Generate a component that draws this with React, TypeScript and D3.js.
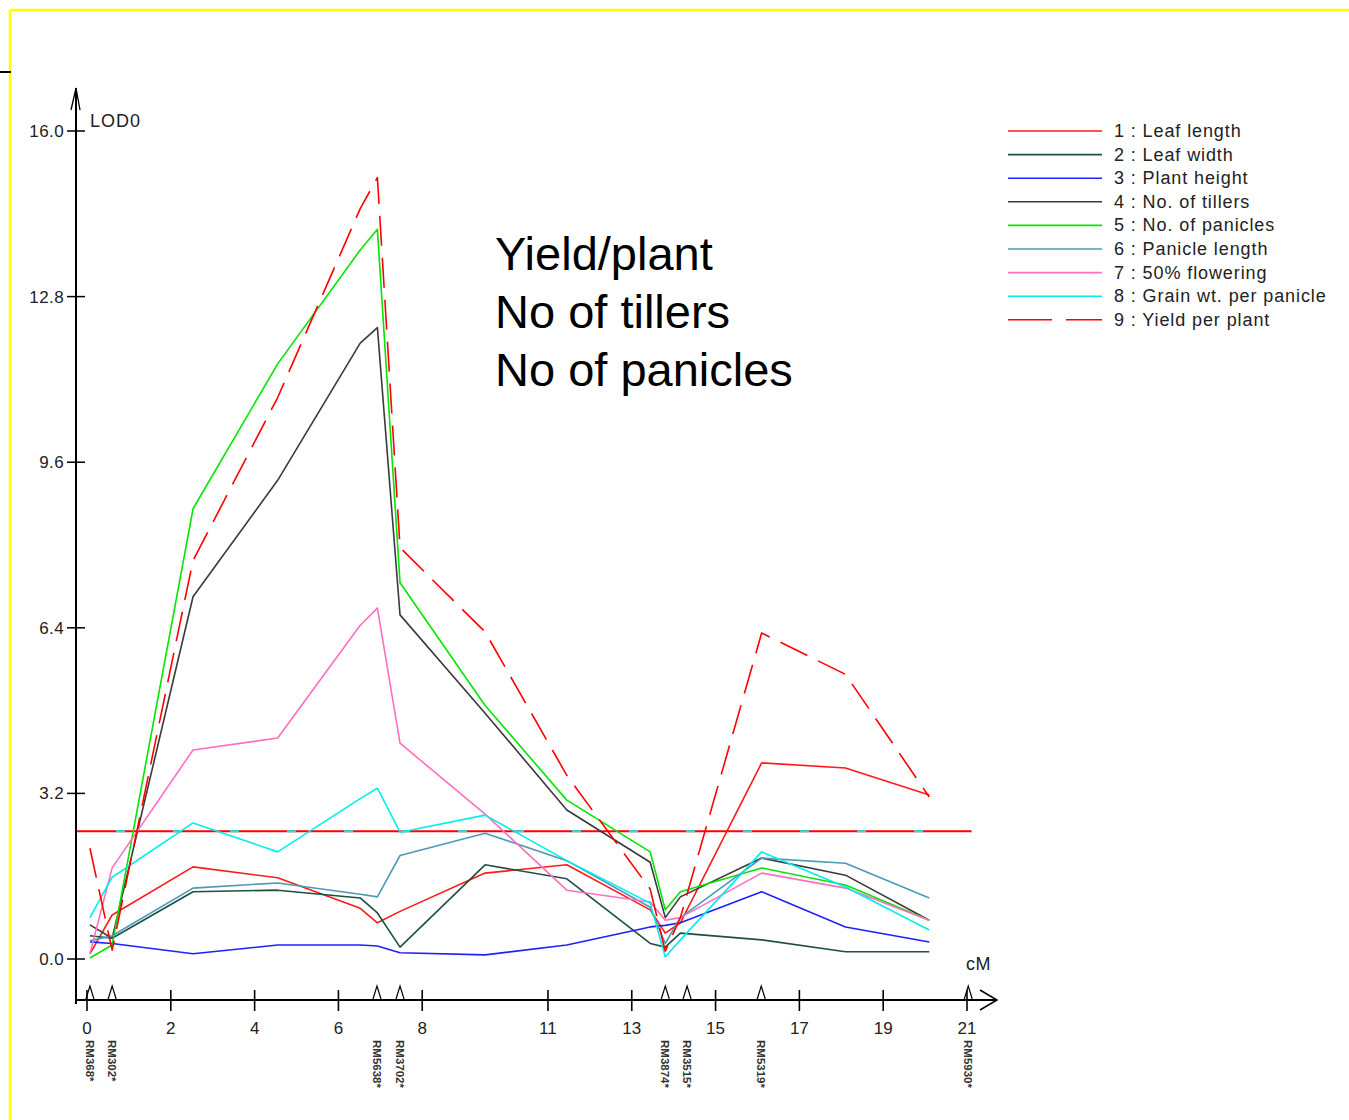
import React from "react";
import * as d3 from "d3";

const positions = [0.07, 0.6, 2.53, 4.55, 6.52, 6.93, 7.47, 9.5, 11.45, 13.44, 13.8, 14.16, 16.1, 18.1, 20.1];

const leafLength = [0.1, 0.85, 1.78, 1.57, 0.98, 0.7, 0.92, 1.66, 1.82, 0.95, 0.5, 0.7, 3.79, 3.69, 3.17];
const leafWidth = [0.45, 0.4, 1.3, 1.33, 1.18, 0.89, 0.23, 1.82, 1.55, 0.3, 0.23, 0.5, 0.37, 0.14, 0.14];
const plantHeight = [0.33, 0.3, 0.1, 0.27, 0.27, 0.25, 0.12, 0.08, 0.27, 0.62, 0.65, 0.7, 1.3, 0.62, 0.33];
const tillers = [0.66, 0.4, 7.0, 9.25, 11.9, 12.2, 6.65, 4.75, 2.88, 1.87, 0.8, 1.2, 1.95, 1.62, 0.75];
const panicles = [0.02, 0.27, 8.7, 11.5, 13.7, 14.1, 7.27, 4.9, 3.07, 2.07, 0.95, 1.3, 1.76, 1.43, 0.75];
const panicleLength = [0.35, 0.45, 1.37, 1.47, 1.25, 1.2, 2.0, 2.43, 1.9, 1.0, 0.3, 0.8, 1.95, 1.85, 1.18];
const flowering = [0.1, 1.76, 4.04, 4.27, 6.45, 6.78, 4.17, 2.8, 1.33, 1.1, 0.75, 0.8, 1.66, 1.37, 0.75];
const grainWt = [0.8, 1.58, 2.63, 2.07, 3.1, 3.3, 2.45, 2.78, 1.9, 1.08, 0.04, 0.37, 2.07, 1.39, 0.56];
const yieldPlant = [2.14, 0.17, 7.7, 10.85, 14.5, 15.1, 7.95, 6.32, 3.55, 1.35, 0.15, 0.8, 6.3, 5.5, 3.13];

const seriesNames = [
  "1 : Leaf length",
  "2 : Leaf width",
  "3 : Plant height",
  "4 : No. of tillers",
  "5 : No. of panicles",
  "6 : Panicle length",
  "7 : 50% flowering",
  "8 : Grain wt. per panicle",
  "9 : Yield per plant",
];
const seriesValues = [leafLength, leafWidth, plantHeight, tillers, panicles, panicleLength, flowering, grainWt, yieldPlant];
const seriesColors = ["#ff1a1a", "#1f4f3f", "#2020ff", "#3a3a3a", "#00e600", "#4a9ab8", "#ff6ec0", "#00eeee", "#ff0000"];
const seriesDashed = [false, false, false, false, false, false, false, false, true];

const xTicks = [0, 2, 4, 6, 8, 11, 13, 15, 17, 19, 21];
const yTicks = [0, 3.2, 6.4, 9.6, 12.8, 16.0];
const threshold = 2.47;

const markerPos = [0.07, 0.6, 6.92, 7.47, 13.8, 14.32, 16.09, 21.03];
const markerNames = ["RM368*", "RM302*", "RM5638*", "RM3702*", "RM3874*", "RM3515*", "RM5319*", "RM5930*"];

const annotation = ["Yield/plant", "No of tillers", "No of panicles"];

export default function App() {
  const x = d3.scaleLinear().domain([0, 21]).range([87, 967]);
  const y = d3.scaleLinear().domain([0, 16]).range([959, 131]);
  const line = d3
    .line<number>()
    .x((_, i) => x(positions[i]))
    .y((v) => y(v));
  const axisY = 1000;
  const axisX = 76;
  const font = "'Liberation Sans', Arial, sans-serif";

  return (
    <svg
      width={1349}
      height={1120}
      style={{ position: "absolute", left: 0, top: 0, background: "#fff" }}
      fontFamily={font}
    >
      <rect x={0} y={0} width={1349} height={1120} fill="#fff" />
      {/* yellow frame */}
      <line x1={10} y1={10} x2={1349} y2={10} stroke="#ffff00" strokeWidth={2.5} />
      <line x1={10} y1={10} x2={10} y2={1120} stroke="#ffff00" strokeWidth={2.5} />
      <line x1={0} y1={72} x2={11} y2={72} stroke="#000" strokeWidth={2} />

      {/* threshold */}
      <line x1={axisX} x2={972} y1={y(threshold)} y2={y(threshold)} stroke="#ff0000" strokeWidth={2} />
      <line
        x1={axisX + 40}
        x2={972}
        y1={y(threshold)}
        y2={y(threshold)}
        stroke="#00eeee"
        strokeWidth={2}
        strokeDasharray="9 48"
      />

      {/* series */}
      {seriesValues.map((vals, i) => (
        <path
          key={i}
          d={line(vals) || ""}
          fill="none"
          stroke={seriesColors[i]}
          strokeWidth={1.6}
          strokeDasharray={seriesDashed[i] ? "30 12" : undefined}
          strokeLinejoin="round"
        />
      ))}

      {/* y axis */}
      <line x1={axisX} x2={axisX} y1={1004} y2={88} stroke="#000" strokeWidth={2} />
      <polyline points={`${axisX - 5},110 ${axisX},88 ${axisX + 4},110`} fill="none" stroke="#000" strokeWidth={1.3} />
      {yTicks.map((t) => (
        <g key={t}>
          <line x1={axisX - 9} x2={axisX + 9} y1={y(t)} y2={y(t)} stroke="#000" strokeWidth={1.5} />
          <text x={64} y={y(t) + 6} textAnchor="end" fontSize={17} letterSpacing={0.4} fill="#222">
            {t.toFixed(1)}
          </text>
        </g>
      ))}
      <text x={90} y={127} fontSize={18} letterSpacing={1} fill="#222">LOD0</text>

      {/* x axis */}
      <line x1={axisX} x2={996} y1={axisY} y2={axisY} stroke="#000" strokeWidth={2} />
      <polyline points={`980,990 997,${axisY} 980,1010`} fill="none" stroke="#000" strokeWidth={1.5} />
      {xTicks.map((t) => (
        <g key={t}>
          <line x1={x(t)} x2={x(t)} y1={axisY - 10} y2={axisY + 11} stroke="#000" strokeWidth={1.6} />
          <text x={x(t)} y={1034} textAnchor="middle" fontSize={17} fill="#222">
            {t}
          </text>
        </g>
      ))}
      <text x={966} y={970} fontSize={18} letterSpacing={0.5} fill="#222">cM</text>

      {/* markers */}
      {markerPos.map((m, i) => (
        <g key={i}>
          <polyline
            points={`${x(m) - 4},${axisY - 1} ${x(m)},${axisY - 14} ${x(m) + 4},${axisY - 1}`}
            fill="none"
            stroke="#000"
            strokeWidth={1.2}
          />
          <text
            transform={`translate(${x(m) - 4},1040) rotate(90)`}
            fontSize={11.5}
            fill="#333"
            fontWeight="bold"
          >
            {markerNames[i]}
          </text>
        </g>
      ))}

      {/* annotation */}
      {annotation.map((a, i) => (
        <text key={a} x={495} y={270 + i * 58} fontSize={47} fill="#000">
          {a}
        </text>
      ))}

      {/* legend */}
      {seriesNames.map((n, i) => {
        const ly = 131 + i * 23.6;
        return (
          <g key={n}>
            <line
              x1={1008}
              x2={1102}
              y1={ly}
              y2={ly}
              stroke={seriesColors[i]}
              strokeWidth={1.6}
              strokeDasharray={seriesDashed[i] ? "44 14" : undefined}
            />
            <text x={1114} y={ly + 6} fontSize={18} letterSpacing={0.9} fill="#222">
              {n}
            </text>
          </g>
        );
      })}
    </svg>
  );
}
